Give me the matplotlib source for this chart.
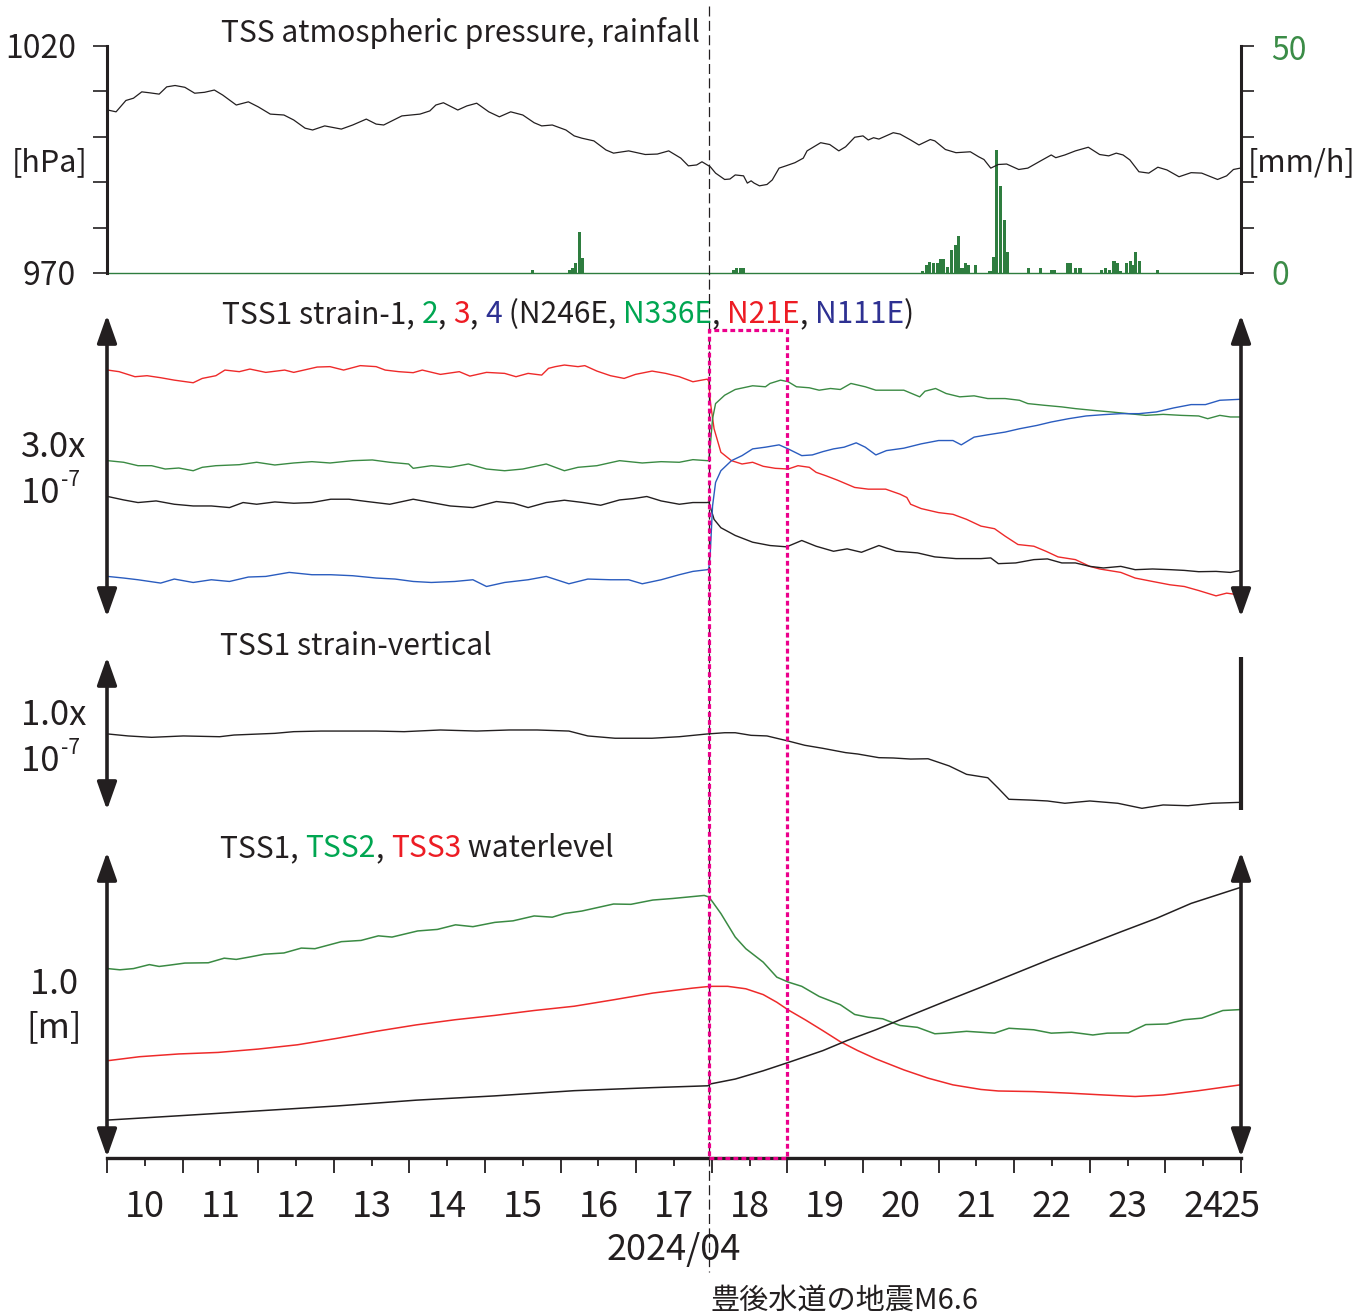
import matplotlib
matplotlib.use('Agg')
import matplotlib.pyplot as plt
from matplotlib.patches import Rectangle
from matplotlib.lines import Line2D
from matplotlib import transforms

plt.rcParams['font.family'] = ['Noto Sans CJK JP', 'DejaVu Sans']

# ---------------- data (day of April 2024, value) ----------------
pressure = [(10.01,1005.9),(10.12,1005.5),(10.25,1008.0),(10.35,1008.5),(10.46,1009.9),(10.56,1009.7),
            (10.69,1009.4),(10.79,1011.0),(10.90,1011.3),(11.03,1010.9),(11.16,1009.6),(11.29,1009.8),
            (11.42,1010.3),(11.53,1009.2),(11.71,1007.0),(11.87,1007.7),(12.00,1006.6),(12.16,1005.0),
            (12.34,1004.8),(12.47,1003.7),(12.62,1001.9),(12.72,1001.5),(12.88,1002.4),(13.10,1001.7),
            (13.25,1002.6),(13.43,1003.9),(13.56,1002.8),(13.66,1002.6),(13.90,1004.6),(14.14,1005.0),
            (14.27,1005.7),(14.35,1007.0),(14.45,1007.5),(14.64,1005.9),(14.76,1006.8),(14.89,1007.4),
            (15.05,1005.5),(15.19,1004.4),(15.34,1005.5),(15.50,1004.8),(15.65,1003.1),(15.75,1002.4),
            (15.89,1002.6),(16.07,1001.5),(16.18,1000.2),(16.28,999.7),(16.44,999.1),(16.60,997.1),
            (16.70,996.4),(16.90,996.9),(17.12,996.1),(17.28,996.2),(17.43,996.9),(17.59,995.3),
            (17.69,993.6),(17.80,993.8),(17.87,994.5),(17.98,993.4),(18.05,992.0),(18.17,990.6),
            (18.24,990.7),(18.31,991.6),(18.42,991.4),(18.47,989.8),(18.52,990.3),(18.56,989.8),
            (18.63,989.2),(18.73,989.5),(18.80,990.5),(18.89,993.1),(18.98,993.6),(19.10,994.3),
            (19.21,995.3),(19.26,996.9),(19.35,997.8),(19.44,998.7),(19.56,998.3),(19.68,996.9),
            (19.77,997.8),(19.89,999.9),(20.00,1000.2),(20.07,999.3),(20.14,999.8),(20.21,999.5),
            (20.40,1000.9),(20.49,1000.6),(20.63,999.3),(20.74,998.2),(20.89,999.4),(20.95,999.1),
            (21.09,997.2),(21.23,996.5),(21.42,996.7),(21.53,995.6),(21.60,995.0),(21.69,993.1),
            (21.79,993.9),(21.90,994.0),(22.06,992.8),(22.18,993.1),(22.35,994.7),(22.49,996.0),
            (22.55,995.4),(22.67,996.0),(22.81,996.9),(22.98,997.7),(23.13,996.1),(23.25,995.8),
            (23.35,996.4),(23.44,996.0),(23.53,994.9),(23.65,992.3),(23.78,992.0),(23.90,993.3),
            (24.02,992.7),(24.18,991.2),(24.34,992.1),(24.48,992.0),(24.69,990.6),(24.81,991.4),
            (24.90,992.8),(24.99,993.1)]

rainfall = [(15.63,0.6),(16.12,0.7),(16.16,1.2),(16.20,2.2),(16.25,9.1),(16.29,3.4),
            (18.29,0.6),(18.33,1.1),(18.38,1.1),(18.42,1.1),
            (20.79,0.5),(20.84,1.7),(20.88,2.5),(20.93,2.3),(20.98,2.3),(21.02,3.1),(21.07,3.1),
            (21.12,1.3),(21.17,5.1),(21.22,6.2),(21.26,8.2),(21.31,1.1),(21.36,2.2),(21.40,1.7),
            (21.49,1.7),(21.68,0.5),(21.73,3.6),(21.77,27.1),(21.82,19.1),(21.87,11.6),(21.91,4.7),
            (22.19,1.0),(22.35,1.1),(22.49,0.6),(22.53,0.6),(22.70,2.2),(22.74,2.2),(22.81,1.2),
            (22.87,1.2),(23.16,0.7),(23.21,1.1),(23.26,0.6),(23.32,2.6),(23.37,2.1),(23.41,0.4),
            (23.49,2.1),(23.54,2.6),(23.58,1.7),(23.61,4.6),(23.66,2.6),(23.90,0.6)]

# horizontal strain (x1e-9, relative)
strain1 = [(10.01,119.7),(10.22,116.3),(10.41,113.7),(10.65,115.3),(10.89,112.0),(11.14,110.3),
           (11.38,110.3),(11.62,108.7),(11.80,113.7),(11.98,112.0),(12.22,114.3),(12.47,113.0),
           (12.71,113.7),(12.96,117.0),(13.20,117.0),(13.44,114.7),(13.74,112.0),(14.05,117.0),
           (14.29,113.7),(14.54,110.3),(14.84,108.7),(15.15,114.7),(15.38,113.0),(15.57,108.7),
           (15.81,113.7),(16.05,116.0),(16.30,113.7),(16.53,111.0),(16.78,116.3),(16.97,117.7),
           (17.14,119.7),(17.33,115.3),(17.57,112.0),(17.75,113.7),(17.94,113.7),(17.96,114.3),
           (18.03,97.0),(18.12,88.7),(18.31,81.0),(18.54,74.3),(18.77,71.0),(18.99,69.7),
           (19.19,76.0),(19.38,70.3),(19.61,65.3),(19.79,67.7),(19.98,64.3),(20.21,71.0),
           (20.44,65.3),(20.72,63.7),(20.95,59.7),(21.23,58.0),(21.56,58.0),(21.69,58.7),
           (21.79,53.0),(22.02,53.7),(22.26,57.0),(22.44,57.7),(22.63,53.7),(22.81,53.7),
           (23.00,50.3),(23.18,48.7),(23.41,50.3),(23.60,47.0),(23.83,47.7),(24.07,47.0),
           (24.25,46.3),(24.44,45.0),(24.67,45.3),(24.86,44.3),(25.00,46.3)]
strain2 = [(10.01,155.3),(10.22,153.7),(10.41,150.3),(10.59,150.3),(10.77,147.0),(10.95,148.0),
           (11.14,145.3),(11.26,148.7),(11.44,150.3),(11.75,151.3),(11.98,153.7),(12.22,151.0),
           (12.47,153.0),(12.71,154.3),(12.95,153.0),(13.25,155.3),(13.51,156.0),(13.74,153.7),
           (13.99,152.0),(14.05,147.7),(14.29,150.3),(14.54,148.7),(14.78,152.0),(15.02,147.0),
           (15.26,145.3),(15.50,147.0),(15.81,152.0),(16.05,145.3),(16.23,148.7),(16.48,150.3),
           (16.78,155.3),(17.08,153.0),(17.33,154.3),(17.57,153.7),(17.75,156.3),(17.94,155.3),
           (17.96,155.3),(17.98,170.3),(18.01,197.0),(18.05,212.0),(18.17,220.3),(18.31,226.0),
           (18.54,229.7),(18.71,228.7),(18.77,232.0),(18.91,235.3),(19.01,233.7),(19.12,228.7),
           (19.29,227.7),(19.42,225.3),(19.57,227.0),(19.70,226.0),(19.84,232.0),(20.03,228.7),
           (20.17,225.3),(20.35,225.3),(20.54,225.3),(20.75,218.7),(20.82,224.3),(20.96,227.0),
           (21.10,222.0),(21.28,218.7),(21.47,219.7),(21.65,217.0),(21.88,217.0),(22.07,215.3),
           (22.18,212.0),(22.40,210.3),(22.63,208.7),(22.81,207.0),(23.04,205.3),(23.28,203.7),
           (23.51,202.0),(23.74,200.3),(23.97,201.3),(24.21,200.3),(24.44,199.7),(24.56,197.0),
           (24.72,200.3),(24.86,198.7),(25.00,198.7)]
strain3 = [(10.01,245.3),(10.16,243.7),(10.37,238.7),(10.53,239.7),(10.71,237.7),(10.89,235.3),
           (11.14,232.7),(11.26,237.0),(11.44,239.7),(11.56,245.3),(11.75,243.7),(11.89,246.3),
           (12.10,243.0),(12.35,245.3),(12.47,243.0),(12.78,248.3),(12.95,248.7),(13.13,245.3),
           (13.35,249.7),(13.56,248.7),(13.68,245.3),(13.86,243.7),(14.05,242.7),(14.17,245.3),
           (14.41,241.0),(14.66,243.7),(14.80,239.3),(15.02,243.0),(15.26,242.0),(15.41,238.7),
           (15.57,242.0),(15.75,240.3),(15.84,247.0),(15.93,248.7),(16.05,250.3),(16.23,248.7),
           (16.32,249.7),(16.48,244.3),(16.66,239.7),(16.84,237.0),(16.99,241.0),(17.21,244.3),
           (17.39,242.0),(17.57,238.7),(17.75,233.7),(17.94,236.3),(17.96,234.3),(17.98,214.0),
           (18.03,187.0),(18.12,163.7),(18.26,155.3),(18.40,152.0),(18.54,153.7),(18.68,149.7),
           (18.84,147.7),(19.01,147.0),(19.14,150.3),(19.29,148.7),(19.38,143.7),(19.51,140.3),
           (19.66,136.0),(19.89,128.7),(20.07,127.0),(20.30,127.0),(20.49,122.0),(20.58,118.7),
           (20.63,112.0),(20.77,107.7),(21.00,103.7),(21.19,102.0),(21.37,97.0),(21.56,90.3),
           (21.74,87.7),(21.88,80.3),(22.05,72.0),(22.26,70.3),(22.42,65.3),(22.58,59.7),
           (22.81,57.0),(23.00,50.3),(23.13,47.7),(23.41,44.3),(23.60,38.7),(23.83,35.3),
           (24.06,32.0),(24.25,30.3),(24.44,26.3),(24.67,21.0),(24.81,23.7),(25.00,21.7)]
strain4 = [(10.01,40.3),(10.22,38.7),(10.41,37.0),(10.71,33.7),(10.89,37.7),(11.14,34.3),
           (11.38,37.0),(11.62,35.3),(11.87,39.7),(12.10,40.3),(12.41,44.3),(12.71,42.0),
           (12.96,42.0),(13.25,41.0),(13.56,38.7),(13.81,37.7),(14.05,35.3),(14.29,34.3),
           (14.60,35.3),(14.84,37.0),(15.02,30.3),(15.26,34.3),(15.57,37.0),(15.81,40.3),
           (16.11,33.0),(16.36,37.7),(16.66,37.0),(16.90,37.0),(17.08,33.0),(17.33,37.0),
           (17.57,42.0),(17.75,45.3),(17.94,47.0),(17.96,47.7),(17.98,64.0),(18.01,110.3),
           (18.05,133.7),(18.12,145.3),(18.26,155.3),(18.40,160.3),(18.54,167.0),(18.71,168.7),
           (18.89,171.0),(19.01,167.0),(19.19,160.3),(19.33,161.0),(19.47,164.3),(19.61,167.0),
           (19.75,168.7),(19.91,173.0),(20.03,168.7),(20.17,161.0),(20.31,165.3),(20.54,167.7),
           (20.77,172.0),(21.00,175.3),(21.19,175.3),(21.30,171.0),(21.47,178.7),(21.65,181.0),
           (21.88,183.7),(22.07,187.0),(22.30,190.3),(22.49,193.7),(22.72,197.0),(22.95,199.7),
           (23.18,201.0),(23.41,202.0),(23.65,202.0),(23.88,203.7),(24.11,207.7),(24.34,211.0),
           (24.53,211.0),(24.72,215.3),(25.00,216.3)]

# vertical strain (x1e-9, relative)
strain_v = [(10.01,49.7),(10.28,48.4),(10.59,47.5),(11.01,48.4),(11.49,47.9),(11.68,49.0),
            (12.22,50.1),(12.47,51.2),(12.83,51.6),(13.20,51.6),(13.56,51.6),(13.93,51.2),
            (14.41,52.3),(14.89,51.6),(15.32,52.3),(15.69,52.3),(16.11,51.6),(16.36,48.4),
            (16.72,46.9),(17.21,46.9),(17.57,47.9),(17.94,49.7),(18.17,50.5),(18.31,50.5),
            (18.52,48.8),(18.73,48.4),(19.01,45.1),(19.23,42.3),(19.47,40.3),(19.77,37.5),
            (19.93,36.6),(20.21,34.2),(20.40,34.0),(20.63,33.3),(20.86,33.5),(21.14,28.8),
            (21.37,23.3),(21.65,21.1),(21.79,14.2),(21.93,7.0),(22.21,6.5),(22.44,5.9),
            (22.67,4.4),(23.00,5.9),(23.37,4.4),(23.69,1.1),(23.97,3.3),(24.30,2.8),
            (24.62,4.4),(24.99,5.0)]

# water level (m, relative)
tss1_level = [(10.01,0.124),(10.95,0.138),(12.00,0.154),(13.04,0.170),(14.09,0.189),(15.13,0.203),
              (16.18,0.220),(17.22,0.230),(17.95,0.236),(17.98,0.242),(18.31,0.258),(18.68,0.285),
              (19.01,0.312),(19.47,0.351),(19.79,0.384),(20.17,0.419),(20.63,0.466),(21.09,0.512),
              (21.56,0.558),(22.02,0.604),(22.49,0.651),(22.95,0.695),(23.41,0.739),(23.88,0.783),
              (24.34,0.832),(24.99,0.884)]
tss2_level = [(10.01,0.619),(10.17,0.615),(10.35,0.619),(10.56,0.632),(10.69,0.626),(10.82,0.630),
              (11.03,0.637),(11.34,0.638),(11.55,0.653),(11.71,0.649),(11.89,0.657),(12.08,0.666),
              (12.34,0.670),(12.57,0.686),(12.75,0.684),(13.10,0.707),(13.36,0.711),(13.59,0.726),
              (13.77,0.722),(14.11,0.742),(14.37,0.747),(14.61,0.762),(14.84,0.756),(15.13,0.770),
              (15.37,0.775),(15.65,0.791),(15.89,0.787),(16.05,0.799),(16.28,0.807),(16.70,0.830),
              (16.93,0.829),(17.22,0.843),(17.48,0.848),(17.69,0.853),(17.90,0.858),(17.96,0.853),
              (18.01,0.837),(18.12,0.799),(18.31,0.722),(18.45,0.684),(18.68,0.640),(18.86,0.591),
              (19.01,0.575),(19.19,0.561),(19.42,0.528),(19.70,0.501),(19.89,0.469),(20.07,0.460),
              (20.26,0.455),(20.49,0.433),(20.72,0.427),(20.95,0.406),(21.09,0.408),(21.37,0.414),
              (21.74,0.408),(21.93,0.424),(22.26,0.419),(22.49,0.408),(22.76,0.411),(23.04,0.402),
              (23.23,0.408),(23.51,0.409),(23.74,0.436),(24.02,0.438),(24.25,0.452),(24.48,0.457),
              (24.76,0.482),(24.99,0.485)]
tss3_level = [(10.01,0.318),(10.43,0.331),(10.95,0.340),(11.47,0.345),(12.00,0.356),(12.52,0.370),
              (13.04,0.391),(13.56,0.414),(14.09,0.435),(14.61,0.452),(15.13,0.466),(15.65,0.482),
              (16.18,0.496),(16.70,0.517),(17.22,0.539),(17.74,0.555),(17.98,0.561),(18.21,0.561),
              (18.45,0.553),(18.68,0.534),(18.86,0.509),(19.01,0.484),(19.24,0.451),(19.47,0.416),
              (19.70,0.380),(19.93,0.351),(20.17,0.324),(20.54,0.288),(20.86,0.261),(21.19,0.239),
              (21.56,0.224),(21.79,0.219),(22.26,0.217),(22.72,0.212),(23.18,0.206),(23.60,0.201),
              (23.97,0.206),(24.44,0.220),(24.99,0.239)]

day_labels = ['10', '11', '12', '13', '14', '15', '16', '17', '18', '19', '20', '21', '22', '23', '24']
day_label_pos = [10.5, 11.5, 12.5, 13.5, 14.5, 15.5, 16.5, 17.5, 18.5, 19.5, 20.5, 21.5, 22.5, 23.5, 24.5]
end_label = '25'
quake_day = 17.968          # 2024-04-17 23:14
box_end_day = 19.0

# ---------------- style ----------------
W, H = 1370, 1315
INK = '#231f20'
RAIN = '#2e7d3f'
RAIN_TXT = '#3b8c47'
C_RED = '#ee2a2a'
C_GRN = '#3a8a43'
C_BLU = '#2a5cbf'
T_GRN = '#00a651'
T_RED = '#ed1c24'
T_BLU = '#2e3192'
MAG = '#ec008c'
XMIN, XMAX = 10.0, 25.0


def unzip(pairs):
    return [p[0] for p in pairs], [p[1] for p in pairs]


def fx(x):
    return x / W


def fy(y):
    return 1 - y / H


def rect(top, bottom):
    return [fx(107), fy(bottom), fx(1241) - fx(107), (bottom - top) / H]


fig = plt.figure(figsize=(W / 100, H / 100), dpi=100)
renderer = fig.canvas.get_renderer()


def clean(ax):
    for s in ax.spines.values():
        s.set_visible(False)
    ax.set_xticks([])
    ax.set_yticks([])
    ax.set_xlim(XMIN, XMAX)
    ax.patch.set_visible(False)


def darrow(ax, x, y0, y1):
    ax.annotate('', xy=(x, y1), xytext=(x, y0),
                arrowprops=dict(arrowstyle='<|-|>,head_length=1.7,head_width=0.6',
                                lw=2.6, color=INK, shrinkA=0, shrinkB=0,
                                mutation_scale=10),
                annotation_clip=False)


# ---- panel 1: pressure + rainfall
ax1 = fig.add_axes(rect(46, 273))
ax1r = ax1.twinx()
clean(ax1)
clean(ax1r)
ax1.set_zorder(3)
ax1r.set_zorder(2)
d, v = unzip(pressure)
ax1.plot(d, v, color=INK, lw=0.9)
ax1.set_ylim(970, 1020)
ax1.spines['left'].set_visible(True)
ax1.spines['left'].set_linewidth(2.2)
ax1.spines['left'].set_color(INK)
ax1.set_yticks([970, 980, 990, 1000, 1010, 1020])
ax1.set_yticklabels([])
ax1.tick_params(axis='y', direction='out', length=10, width=1.2, color=INK)
d, v = unzip(rainfall)
ax1r.bar(d, v, width=1 / 24, color=RAIN, linewidth=0)
ax1r.axhline(0, color=RAIN, lw=1.0, clip_on=False)
ax1r.set_ylim(0, 50)
ax1r.spines['right'].set_visible(True)
ax1r.spines['right'].set_linewidth(2.2)
ax1r.spines['right'].set_color(INK)
ax1r.set_yticks([0, 10, 20, 30, 40, 50])
ax1r.set_yticklabels([])
ax1r.tick_params(axis='y', direction='out', length=9, width=1.2, color=INK)
ax1r.set_xlim(XMIN, XMAX)

# ---- panel 2: horizontal strain
ax2 = fig.add_axes(rect(315, 617))
clean(ax2)
ax2.set_ylim(0, 300)
for data, col in [(strain3, C_RED), (strain2, C_GRN), (strain1, INK), (strain4, C_BLU)]:
    d, v = unzip(data)
    ax2.plot(d, v, color=col, lw=1.0)
darrow(ax2, XMIN, 0, 300)
darrow(ax2, XMAX, 0, 300)

# ---- panel 3: vertical strain
ax3 = fig.add_axes(rect(657, 810))
clean(ax3)
ax3.set_ylim(0, 100)
d, v = unzip(strain_v)
ax3.plot(d, v, color=INK, lw=1.0)
darrow(ax3, XMIN, 0, 100)
ax3.plot([XMAX, XMAX], [0, 100], color=INK, lw=3.0, clip_on=False, solid_capstyle='butt')

# ---- panel 4: water level
ax4 = fig.add_axes(rect(852, 1158))
clean(ax4)
ax4.set_ylim(0, 1.0)
for data, col in [(tss2_level, C_GRN), (tss3_level, C_RED), (tss1_level, INK)]:
    d, v = unzip(data)
    ax4.plot(d, v, color=col, lw=1.1)
darrow(ax4, XMIN, 0.003, 1.0)
darrow(ax4, XMAX, 0.003, 1.0)
ax4.spines['bottom'].set_visible(True)
ax4.spines['bottom'].set_linewidth(2.4)
ax4.spines['bottom'].set_color(INK)
ax4.set_xticks(range(10, 26))
ax4.set_xticks(day_label_pos, minor=True)
ax4.set_xticklabels([])
ax4.tick_params(axis='x', which='major', direction='out', length=11, width=1.3, color=INK)
ax4.tick_params(axis='x', which='minor', direction='out', length=6, width=1.3, color=INK)

blend = transforms.blended_transform_factory(ax4.transData, fig.transFigure)
for p, lab in zip(day_label_pos, day_labels):
    ax4.text(p, fy(1217), lab, transform=blend, ha='center', va='baseline',
             fontsize=26, color=INK, clip_on=False)
ax4.text(XMAX, fy(1217), end_label, transform=blend, ha='center', va='baseline',
         fontsize=26, color=INK, clip_on=False)
fig.text(fx(674), fy(1260), '2024/04', ha='center', va='baseline', fontsize=26, color=INK)
fig.text(fx(711), fy(1309), '豊後水道の地震M6.6', ha='left', va='baseline', fontsize=21, color=INK)

# ---- quake line and box
xq = ax4.transData.transform((quake_day, 0))[0] / W
xb = ax4.transData.transform((box_end_day, 0))[0] / W
fig.add_artist(Line2D([xq, xq], [fy(6), fy(1272)], transform=fig.transFigure,
                      color=INK, lw=0.9, linestyle=(0, (8, 3.5)), zorder=10))
fig.add_artist(Rectangle((xq, fy(1158)), xb - xq, (1158 - 330) / H, transform=fig.transFigure,
                         fill=False, edgecolor=MAG, lw=2.3, linestyle=(0, (1.5, 1.0)), zorder=11))

# ---- axis labels
LS = 23
LB = 22
fig.text(fx(76), fy(58), '1020', ha='right', va='baseline', fontsize=LS, color=INK)
fig.text(fx(76), fy(285), '970', ha='right', va='baseline', fontsize=LS, color=INK)
fig.text(fx(88), fy(171), '[hPa]', ha='right', va='baseline', fontsize=LB, color=INK)
fig.text(fx(1271), fy(60), '50', ha='left', va='baseline', fontsize=LS, color=RAIN_TXT)
fig.text(fx(1271), fy(285), '0', ha='left', va='baseline', fontsize=LS, color=RAIN_TXT)
fig.text(fx(1248), fy(171), '[mm/h]', ha='left', va='baseline', fontsize=LB, color=INK)

fig.text(fx(21), fy(457), '3.0x', ha='left', va='baseline', fontsize=25, color=INK)
fig.text(fx(21), fy(503), '10', ha='left', va='baseline', fontsize=25, color=INK)
fig.text(fx(61), fy(486), '-7', ha='left', va='baseline', fontsize=15, color=INK)
fig.text(fx(21), fy(725), '1.0x', ha='left', va='baseline', fontsize=25, color=INK)
fig.text(fx(21), fy(771), '10', ha='left', va='baseline', fontsize=25, color=INK)
fig.text(fx(61), fy(754), '-7', ha='left', va='baseline', fontsize=15, color=INK)
fig.text(fx(54), fy(994), '1.0', ha='center', va='baseline', fontsize=25, color=INK)
fig.text(fx(54), fy(1037), '[m]', ha='center', va='baseline', fontsize=25, color=INK)


# ---- titles
def colored_text(x_px, base_px, pieces, size):
    full = ''
    bar = fig.text(0, 0, '|', fontsize=size)
    wbar = bar.get_window_extent(renderer).width
    bar.remove()
    for s, c in pieces:
        if full:
            t = fig.text(0, 0, full + '|', fontsize=size)
            w = t.get_window_extent(renderer).width - wbar
            t.remove()
        else:
            w = 0
        fig.text(fx(x_px + w), fy(base_px), s, color=c, fontsize=size, ha='left', va='baseline')
        full += s


TS = 21.6
colored_text(221, 42, [('TSS atmospheric pressure, rainfall', INK)], TS)
colored_text(222, 323, [('TSS1 strain-1, ', INK), ('2', T_GRN), (', ', INK), ('3', T_RED),
                        (', ', INK), ('4', T_BLU), (' (N246E, ', INK), ('N336E', T_GRN),
                        (', ', INK), ('N21E', T_RED), (', ', INK), ('N111E', T_BLU), (')', INK)], TS)
colored_text(220, 655, [('TSS1 strain-vertical', INK)], TS)
colored_text(220, 857, [('TSS1, ', INK), ('TSS2', T_GRN), (', ', INK), ('TSS3', T_RED),
                        (' waterlevel', INK)], TS)

fig.savefig('out.png', dpi=100)
